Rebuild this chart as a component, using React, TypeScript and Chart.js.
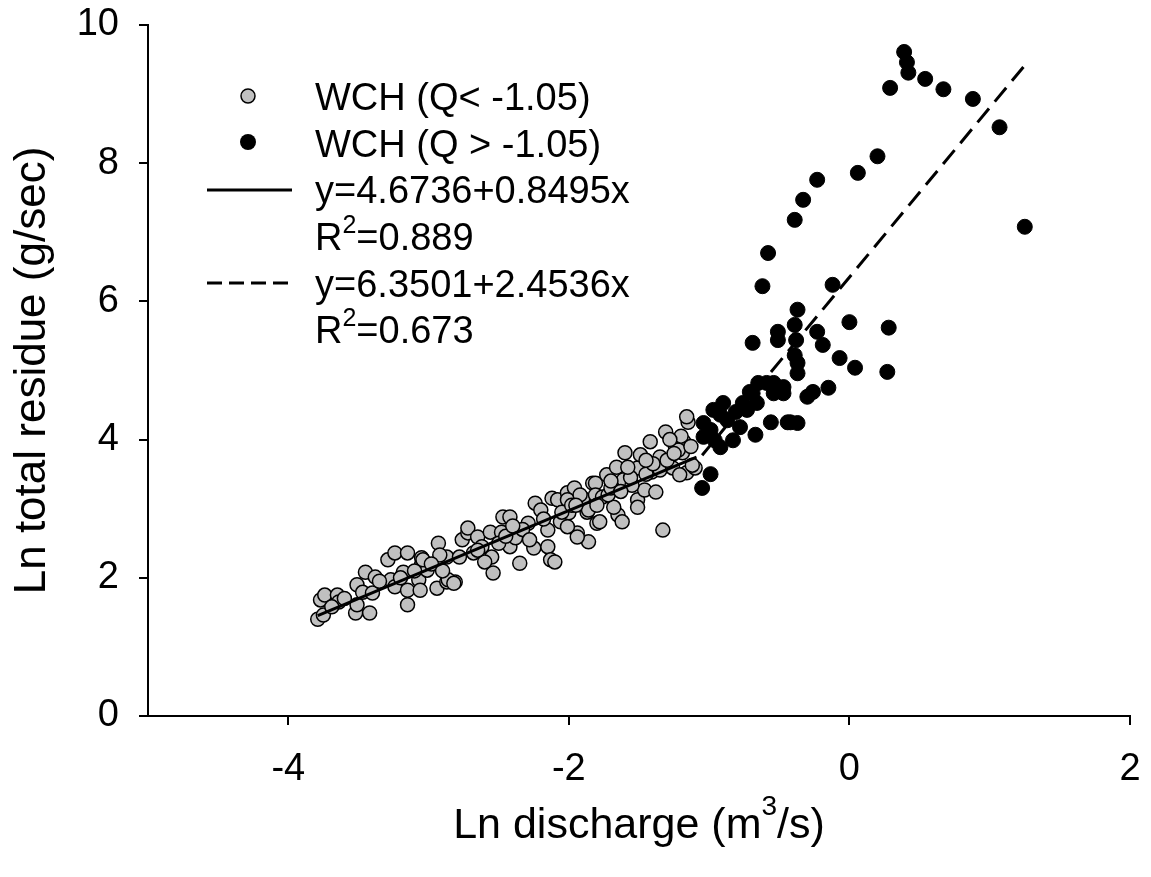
import React, { useEffect, useRef } from "react";
import { Chart, registerables } from "chart.js";

Chart.register(...registerables);

const FONT = '"Liberation Sans", Arial, Helvetica, sans-serif';

// Axis ticks
const xTicks = [-4, -2, 0, 2];
const yTicks = [0, 2, 4, 6, 8, 10];

// Labels
const xTitleMain = "Ln discharge (m";
const xTitleSup = "3";
const xTitleEnd = "/s)";
const yTitle = "Ln total residue (g/sec)";
const seriesNames = ["WCH (Q< -1.05)", "WCH (Q > -1.05)"];
const fitLabels = ["y=4.6736+0.8495x", "y=6.3501+2.4536x"];
const fitR2 = ["=0.889", "=0.673"];

// Regression fits (intercept, slope, x-range)
const fitIntercepts = [4.6736, 6.3501];
const fitSlopes = [0.8495, 2.4536];
const fitStart = [-3.79, -1.05];
const fitEnd = [-1.09, 1.26];

// WCH, Q < -1.05 : [ln discharge, ln total residue]
const lowFlow: [number, number][] = [
  [-3.79, 1.40], [-3.75, 1.46], [-3.77, 1.68], [-3.74, 1.75], [-3.65, 1.75], [-3.64, 1.65],
  [-3.69, 1.58], [-3.52, 1.49], [-3.42, 1.49], [-3.51, 1.61], [-3.45, 2.08], [-3.38, 2.01],
  [-3.51, 1.90], [-3.47, 1.79], [-3.40, 1.78], [-3.29, 2.26], [-3.24, 2.36], [-3.15, 2.36],
  [-3.18, 2.08], [-3.27, 1.97], [-3.24, 1.87], [-3.15, 1.82], [-3.15, 1.61], [-3.05, 2.29],
  [-3.05, 2.19], [-3.07, 1.97], [-3.06, 1.82], [-2.94, 1.85], [-2.93, 2.50], [-2.87, 2.30],
  [-2.87, 1.94], [-2.81, 1.94], [-2.76, 2.55], [-2.72, 2.65], [-2.92, 2.33], [-2.72, 2.72],
  [-2.65, 2.59], [-2.56, 2.66], [-2.47, 2.88], [-2.42, 2.88], [-2.48, 2.66], [-2.55, 2.30],
  [-2.54, 2.07], [-2.60, 2.23], [-2.42, 2.45], [-2.35, 2.21], [-2.38, 2.58], [-2.29, 2.79],
  [-2.24, 3.08], [-2.20, 2.98], [-2.25, 2.43], [-2.15, 2.45], [-2.13, 2.26], [-2.10, 2.23],
  [-2.12, 3.15], [-2.08, 3.13], [-2.15, 2.69], [-2.06, 2.81], [-2.01, 3.23], [-1.96, 3.30],
  [-2.00, 2.94], [-1.94, 2.65], [-1.86, 2.52], [-1.87, 2.95], [-1.83, 3.37], [-1.80, 2.79],
  [-3.01, 2.11], [-3.04, 2.26], [-2.86, 1.97], [-2.82, 1.92], [-2.68, 2.36], [-2.01, 3.13],
  [-1.81, 3.37], [-1.90, 3.15], [-1.81, 3.20], [-1.76, 3.17], [-1.86, 2.98], [-1.78, 2.81],
  [-1.94, 2.59], [-2.01, 2.74], [-1.65, 2.91], [-1.62, 2.81], [-1.68, 3.02], [-1.73, 3.49],
  [-1.66, 3.60], [-1.61, 3.42], [-1.60, 3.81], [-1.51, 3.59], [-1.49, 3.78], [-1.51, 3.13],
  [-1.51, 3.02], [-1.46, 3.27], [-1.38, 3.24], [-1.41, 3.53], [-1.42, 3.97], [-1.35, 3.75],
  [-1.35, 3.56], [-1.31, 4.11], [-1.26, 3.59], [-1.24, 3.89], [-1.19, 3.81], [-1.18, 3.97],
  [-1.16, 3.52], [-1.10, 3.59], [-1.33, 2.69], [-1.15, 4.25], [-1.72, 3.20], [-1.55, 3.34],
  [-1.16, 4.33], [-1.12, 3.63], [-1.21, 3.49], [-1.22, 3.85], [-3.60, 1.70], [-3.35, 1.95],
  [-3.20, 2.00], [-3.10, 2.10], [-2.98, 2.20], [-2.90, 2.10], [-2.78, 2.30], [-2.62, 2.45],
  [-2.50, 2.50], [-2.45, 2.60], [-2.33, 2.70], [-2.28, 2.55], [-2.18, 2.85], [-2.05, 2.95],
  [-1.98, 3.05], [-1.92, 3.20], [-1.80, 3.05], [-1.70, 3.30], [-1.63, 3.25], [-1.56, 3.45],
  [-1.45, 3.50], [-1.40, 3.65], [-1.30, 3.70], [-1.25, 3.80], [-1.20, 4.05], [-1.13, 3.90],
  [-1.28, 4.00], [-1.45, 3.70], [-1.58, 3.60], [-1.70, 3.40], [-1.95, 3.05], [-2.40, 2.75],
  [-2.65, 2.40],
];

// WCH, Q > -1.05
const highFlow: [number, number][] = [
  [0.39, 9.61], [0.41, 9.46], [0.42, 9.31], [0.54, 9.22], [0.29, 9.09], [0.67, 9.07],
  [0.88, 8.93], [1.07, 8.52], [0.20, 8.10], [0.06, 7.86], [-0.23, 7.76], [-0.33, 7.47],
  [-0.39, 7.18], [1.25, 7.08], [-0.58, 6.70], [-0.62, 6.22], [-0.12, 6.24], [-0.37, 5.88],
  [-0.39, 5.66], [-0.51, 5.56], [-0.23, 5.56], [0.00, 5.70], [0.28, 5.62], [-0.69, 5.40],
  [-0.51, 5.44], [-0.38, 5.44], [-0.19, 5.37], [-0.39, 5.22], [-0.07, 5.18], [0.04, 5.04],
  [0.27, 4.98], [-0.37, 5.11], [-0.37, 4.96], [-0.15, 4.75], [-0.26, 4.69], [-0.47, 4.67],
  [-0.65, 4.82], [-0.59, 4.82], [-0.71, 4.69], [-0.90, 4.53], [-0.42, 4.25], [-0.37, 4.24],
  [-0.44, 4.25], [-0.56, 4.25], [-0.67, 4.07], [-0.76, 4.53], [-0.97, 4.43], [-1.04, 4.24],
  [-0.99, 4.14], [-0.87, 4.28], [-0.78, 4.18], [-0.83, 3.99], [-0.92, 3.89], [-1.04, 4.04],
  [-0.99, 3.50], [-1.05, 3.30], [-0.69, 4.67], [-0.54, 4.67], [-0.73, 4.43], [-0.66, 4.53],
  [-0.54, 4.82], [-0.30, 4.62], [-0.47, 4.76], [-0.92, 4.36], [-0.81, 4.40], [-0.96, 3.99],
];

const GRAY = "#c0c0c0";

function fitLine(i: number) {
  return [fitStart[i], fitEnd[i]].map((x) => ({ x, y: fitIntercepts[i] + fitSlopes[i] * x }));
}

function drawSup(ctx: CanvasRenderingContext2D, x: number, base: number, a: string, sup: string, b: string, size: number, supSize: number, supRise: number) {
  ctx.font = `${size}px ${FONT}`;
  ctx.fillText(a, x, base);
  let cx = x + ctx.measureText(a).width;
  ctx.font = `${supSize}px ${FONT}`;
  ctx.fillText(sup, cx, base - supRise);
  cx += ctx.measureText(sup).width;
  ctx.font = `${size}px ${FONT}`;
  ctx.fillText(b, cx, base);
}

const textPlugin = {
  id: "customText",
  afterDraw(chart: any) {
    const ctx: CanvasRenderingContext2D = chart.ctx;
    const area = chart.chartArea;
    ctx.save();
    ctx.fillStyle = "#000";
    ctx.strokeStyle = "#000";
    ctx.textBaseline = "alphabetic";
    ctx.textAlign = "left";

    // Legend markers
    ctx.beginPath();
    ctx.arc(248, 96, 7, 0, Math.PI * 2);
    ctx.fillStyle = GRAY;
    ctx.fill();
    ctx.lineWidth = 1.5;
    ctx.stroke();
    ctx.beginPath();
    ctx.arc(248, 142, 8, 0, Math.PI * 2);
    ctx.fillStyle = "#000";
    ctx.fill();

    // Legend lines
    ctx.lineWidth = 3;
    ctx.beginPath();
    ctx.moveTo(207, 190);
    ctx.lineTo(292, 190);
    ctx.stroke();
    ctx.setLineDash([15, 7]);
    ctx.beginPath();
    ctx.moveTo(207, 283);
    ctx.lineTo(292, 283);
    ctx.stroke();
    ctx.setLineDash([]);

    // Legend text
    const lx = 315;
    ctx.font = `38px ${FONT}`;
    ctx.fillText(seriesNames[0], lx, 110);
    ctx.fillText(seriesNames[1], lx, 157);
    ctx.fillText(fitLabels[0], lx, 203);
    drawSup(ctx, lx, 250, "R", "2", fitR2[0], 38, 25, 17);
    ctx.font = `38px ${FONT}`;
    ctx.fillText(fitLabels[1], lx, 297);
    drawSup(ctx, lx, 343, "R", "2", fitR2[1], 38, 25, 17);

    // X title
    const cx = (area.left + area.right) / 2;
    ctx.font = `43px ${FONT}`;
    const w1 = ctx.measureText(xTitleMain).width;
    const w3 = ctx.measureText(xTitleEnd).width;
    ctx.font = `28px ${FONT}`;
    const w2 = ctx.measureText(xTitleSup).width;
    const start = cx - (w1 + w2 + w3) / 2;
    drawSup(ctx, start, 838, xTitleMain, xTitleSup, xTitleEnd, 43, 28, 23);

    // Y title
    ctx.save();
    ctx.translate(45, (area.top + area.bottom) / 2);
    ctx.rotate(-Math.PI / 2);
    ctx.textAlign = "center";
    ctx.font = `44px ${FONT}`;
    ctx.fillText(yTitle, 0, 0);
    ctx.restore();

    ctx.restore();
  },
};

const noPad = (s: any) => {
  s.paddingTop = 0;
  s.paddingBottom = 0;
  s.paddingLeft = 0;
  s.paddingRight = 0;
};

export default function App() {
  const ref = useRef<HTMLCanvasElement>(null);

  useEffect(() => {
    const canvas = ref.current;
    if (!canvas) return;
    const chart = new Chart(canvas, {
      type: "scatter",
      data: {
        datasets: [
          {
            type: "line",
            label: fitLabels[0],
            data: fitLine(0),
            borderColor: "#000",
            borderWidth: 3,
            pointRadius: 0,
            fill: false,
            order: 0,
          } as any,
          {
            type: "line",
            label: fitLabels[1],
            data: fitLine(1),
            borderColor: "#000",
            borderWidth: 3,
            borderDash: [18, 9],
            pointRadius: 0,
            fill: false,
            order: 0,
          } as any,
          {
            label: seriesNames[1],
            data: highFlow.map(([x, y]) => ({ x, y })),
            backgroundColor: "#000",
            borderColor: "#000",
            borderWidth: 1,
            pointRadius: 7.5,
            order: 1,
          },
          {
            label: seriesNames[0],
            data: lowFlow.map(([x, y]) => ({ x, y })),
            backgroundColor: GRAY,
            borderColor: "#000",
            borderWidth: 1.5,
            pointRadius: 7,
            order: 2,
          },
        ],
      },
      options: {
        responsive: false,
        animation: false,
        events: [],
        layout: { padding: { top: 25, right: 21, left: 0, bottom: 0 } },
        plugins: { legend: { display: false }, tooltip: { enabled: false } },
        scales: {
          x: {
            type: "linear",
            min: -5,
            max: 2,
            afterBuildTicks: (s: any) => {
              s.ticks = xTicks.map((v) => ({ value: v }));
            },
            afterFit: (s: any) => {
              s.height = 161;
              noPad(s);
            },
            grid: { display: true, drawOnChartArea: false, drawTicks: true, tickLength: 9, color: "#000", lineWidth: 2 },
            border: { display: true, color: "#000", width: 2 },
            ticks: { color: "#000", font: { family: FONT, size: 38 }, padding: 22, maxRotation: 0, autoSkip: false },
          },
          y: {
            type: "linear",
            min: 0,
            max: 10,
            afterBuildTicks: (s: any) => {
              s.ticks = yTicks.map((v) => ({ value: v }));
            },
            afterFit: (s: any) => {
              s.width = 148;
              noPad(s);
            },
            grid: { display: true, drawOnChartArea: false, drawTicks: true, tickLength: 9, color: "#000", lineWidth: 2 },
            border: { display: true, color: "#000", width: 2 },
            ticks: { color: "#000", font: { family: FONT, size: 38 }, padding: 20, autoSkip: false },
          },
        },
      },
      plugins: [textPlugin],
    });
    return () => chart.destroy();
  }, []);

  return (
    <div style={{ position: "fixed", left: 0, top: 0, width: 1151, height: 877, background: "#fff" }}>
      <canvas ref={ref} width={1151} height={877} style={{ display: "block" }} />
    </div>
  );
}
